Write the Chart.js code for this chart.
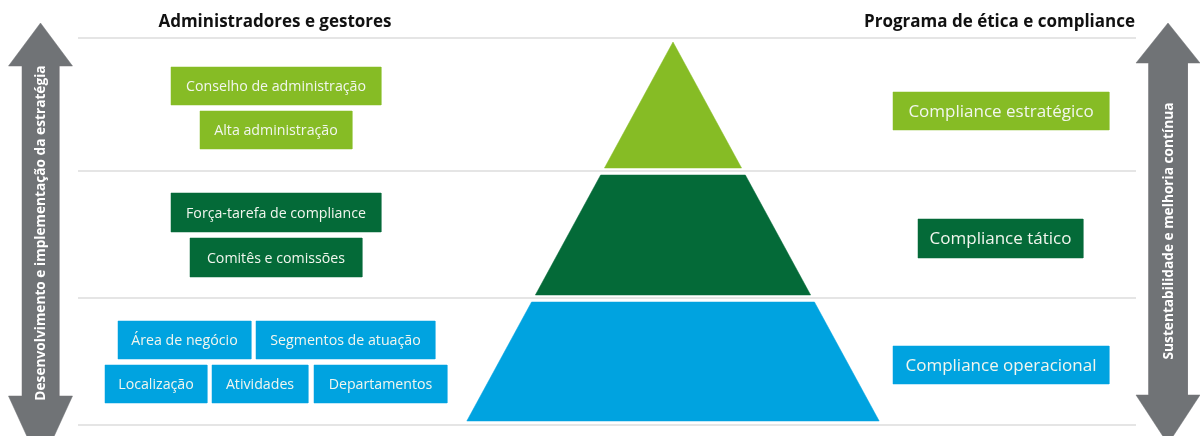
<!DOCTYPE html>
<html>
<head>
<meta charset="utf-8">
<script src="https://cdn.jsdelivr.net/npm/chart.js@4"></script>
<style>
  html, body { margin: 0; padding: 0; background: #fff; }
  #wrap { width: 1200px; height: 436px; position: relative; }
</style>
</head>
<body>
<div id="wrap"><canvas id="pyramid-chart"></canvas></div>
<script>
// ── Data ──────────────────────────────────────────────────────────────────
const headers      = ['Administradores e gestores', 'Programa de ética e compliance'];
const levels       = ['Compliance estratégico', 'Compliance tático', 'Compliance operacional'];
const levelColors  = ['#86bc25', '#046a38', '#00a3e0'];
const leftGroups   = [
    [['Conselho de administração'], ['Alta administração']],
    [['Força-tarefa de compliance'], ['Comitês e comissões']],
    [['Área de negócio', 'Segmentos de atuação'], ['Localização', 'Atividades', 'Departamentos']],
];
const arrowLabels  = ['Desenvolvimento e implementação da estratégia', 'Sustentabilidade e melhoria contínua'];

// ── Layout (pixels in a 1200 x 436 value space) ───────────────────────────
const W = 1200, H = 436;
const FONT = '"Open Sans", "Noto Sans", sans-serif';
const apex      = { x: 673, y: 42 };
const slope     = 0.544;
const bands     = [[42, 168], [175, 295], [302, 421]];
const sepLines  = [38, 171, 298, 425];
const rightBoxes = [
    { x0: 893, x1: 1109, y0: 92,  y1: 130 },
    { x0: 918, x1: 1083, y0: 219, y1: 258 },
    { x0: 893, x1: 1109, y0: 346, y1: 384 },
];
// left box rectangles, same shape as leftGroups
const leftBoxes = [
    [[{ x0: 171, x1: 381 }], [{ x0: 200, x1: 352 }]],
    [[{ x0: 171, x1: 381 }], [{ x0: 190, x1: 362 }]],
    [[{ x0: 118, x1: 251 }, { x0: 256, x1: 435 }],
     [{ x0: 105, x1: 207 }, { x0: 212, x1: 308 }, { x0: 314, x1: 447 }]],
];
const leftRowsY = [[[67, 105], [111, 149]], [[193, 232], [238, 277]], [[321, 359], [365, 403]]];
const arrows = [
    { cx: 40.5,   tip: 23, headBase: 66, tailBase: 396, tail: 466, head: 32, shaft: 18.5, textY: 233 },
    { cx: 1168,   tip: 23, headBase: 63, tailBase: 395, tail: 444, head: 32, shaft: 19.5, textY: 231 },
];

// ── Geometry helpers ──────────────────────────────────────────────────────
function rect(x0, y0, x1, y1) {
    return [{ x: x0, y: y0 }, { x: x1, y: y0 }, { x: x1, y: y1 }, { x: x0, y: y1 }, { x: x0, y: y0 }];
}
function band(t, b) {
    const ht = (t - apex.y) * slope, hb = (b - apex.y) * slope;
    return [
        { x: apex.x - ht, y: t }, { x: apex.x + ht, y: t },
        { x: apex.x + hb, y: b }, { x: apex.x - hb, y: b }, { x: apex.x - ht, y: t },
    ];
}
function arrowShape(a) {
    const c = a.cx;
    return [
        { x: c, y: a.tip }, { x: c + a.head, y: a.headBase }, { x: c + a.shaft, y: a.headBase },
        { x: c + a.shaft, y: a.tailBase }, { x: c + a.head, y: a.tailBase }, { x: c, y: a.tail },
        { x: c - a.head, y: a.tailBase }, { x: c - a.shaft, y: a.tailBase }, { x: c - a.shaft, y: a.headBase },
        { x: c - a.head, y: a.headBase }, { x: c, y: a.tip },
    ];
}
function shapeDs(points, color) {
    return {
        data: points, showLine: true, fill: 'shape', backgroundColor: color,
        borderColor: color, borderWidth: 0.5, pointRadius: 0, tension: 0,
    };
}

// ── Datasets ──────────────────────────────────────────────────────────────
const datasets = [];
const texts = [];   // {x, y, text, font, color, align, rotate}

sepLines.forEach(y => datasets.push({
    data: [{ x: 78, y }, { x: 1136, y }], showLine: true, fill: false,
    borderColor: '#dcdcdc', borderWidth: 1.6, pointRadius: 0,
}));

bands.forEach(([t, b], i) => datasets.push(shapeDs(band(t, b), levelColors[i])));

levels.forEach((lbl, i) => {
    const r = rightBoxes[i];
    datasets.push(shapeDs(rect(r.x0, r.y0, r.x1, r.y1), levelColors[i]));
    texts.push({ x: (r.x0 + r.x1) / 2, y: (r.y0 + r.y1) / 2, text: lbl, font: `400 17px ${FONT}`, color: '#f2f6ee' });
});

leftGroups.forEach((rows, g) => {
    rows.forEach((row, r) => {
        const [y0, y1] = leftRowsY[g][r];
        row.forEach((lbl, k) => {
            const b = leftBoxes[g][r][k];
            datasets.push(shapeDs(rect(b.x0, y0, b.x1, y1), levelColors[g]));
            texts.push({ x: (b.x0 + b.x1) / 2, y: (y0 + y1) / 2, text: lbl, font: `400 14.2px ${FONT}`, color: '#f2f6ee' });
        });
    });
});

arrows.forEach((a, i) => {
    datasets.push(shapeDs(arrowShape(a), '#707376'));
    texts.push({ x: a.cx, y: a.textY, text: arrowLabels[i], font: `700 13.7px ${FONT}`, color: '#ffffff', rotate: true });
});

texts.push({ x: 275, y: 21, text: headers[0], font: `700 17px ${FONT}`, color: '#111' });
texts.push({ x: 1135, y: 21, text: headers[1], font: `700 17px ${FONT}`, color: '#111', align: 'right' });

// ── Text plugin ───────────────────────────────────────────────────────────
const textPlugin = {
    id: 'diagramText',
    afterDatasetsDraw(chart) {
        const { ctx, scales: { x, y } } = chart;
        texts.forEach(t => {
            ctx.save();
            ctx.font = t.font;
            ctx.fillStyle = t.color;
            ctx.textBaseline = 'middle';
            ctx.textAlign = t.align || 'center';
            const px = x.getPixelForValue(t.x), py = y.getPixelForValue(t.y);
            if (t.rotate) {
                ctx.translate(px, py);
                ctx.rotate(-Math.PI / 2);
                ctx.fillText(t.text, 0, 1);
            } else {
                ctx.fillText(t.text, px, py + 1);
            }
            ctx.restore();
        });
    },
};

new Chart(document.getElementById('pyramid-chart'), {
    type: 'scatter',
    data: { datasets },
    options: {
        responsive: true,
        maintainAspectRatio: false,
        animation: false,
        layout: { padding: 0 },
        plugins: { legend: { display: false }, tooltip: { enabled: false } },
        scales: {
            x: { type: 'linear', min: 0, max: W, display: false },
            y: { type: 'linear', min: 0, max: H, reverse: true, display: false },
        },
    },
    plugins: [textPlugin],
});
</script>
</body>
</html>
